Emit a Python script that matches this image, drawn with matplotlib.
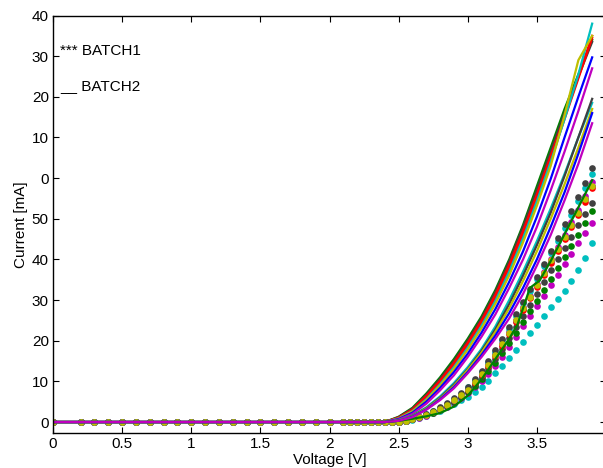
import numpy as np
import matplotlib.pyplot as plt

# ---------------------------------------------------------
# datos
# ---------------------------------------------------------
# BATCH2 (lineas): tension 2.4 .. 3.9 V cada 0.1 V
V_linea = [0.0, 2.3, 2.4, 2.5, 2.6, 2.7, 2.8, 2.9, 3.0, 3.1, 3.2, 3.3, 3.4, 3.5, 3.6, 3.7, 3.8, 3.9]

lineas = [
    ("#008000", [0, 0, 0, 1.3, 3.5, 7.0, 11.0, 15.5, 20.5, 26.0, 32.5, 40.0, 48.5, 58.0, 67.5, 77.0, 85.5, 94.0]),
    ("#404040", [0, 0, 0, 1.2, 3.3, 6.7, 10.6, 15.0, 20.0, 25.5, 32.0, 39.5, 48.0, 57.0, 66.5, 76.0, 85.0, 93.5]),
    ("#ff0000", [0, 0, 0, 1.1, 3.1, 6.4, 10.2, 14.6, 19.5, 25.0, 31.3, 38.7, 47.0, 56.0, 65.5, 75.0, 85.0, 95.0]),
    ("#ff0000", [0, 0, 0, 1.0, 2.9, 6.0, 9.8, 14.1, 19.0, 24.4, 30.6, 37.8, 46.0, 55.0, 64.5, 74.5, 84.5, 94.5]),
    ("#00bfbf", [0, 0, 0, 0.9, 2.7, 5.6, 9.3, 13.5, 18.3, 23.7, 29.8, 37.0, 45.2, 54.3, 64.0, 74.5, 85.5, 98.0]),
    ("#bfbf00", [0, 0, 0, 0.85, 2.6, 5.4, 9.0, 13.1, 17.8, 23.1, 29.1, 36.1, 44.2, 53.2, 63.0, 75.5, 89.0, 95.0]),
    ("#0000ff", [0, 0, 0, 0.75, 2.3, 5.0, 8.4, 12.3, 16.8, 22.0, 27.8, 34.5, 42.0, 50.5, 59.8, 70.0, 80.0, 89.7]),
    ("#bf00bf", [0, 0, 0, 0.6, 2.0, 4.5, 7.8, 11.5, 16.0, 21.0, 26.5, 33.0, 40.0, 48.0, 57.0, 66.5, 76.5, 87.0]),
    ("#00bfbf", [0, 0, 0, 0.4, 1.6, 3.6, 6.3, 9.6, 13.5, 18.0, 23.5, 30.0, 37.0, 44.5, 52.5, 61.0, 70.0, 78.5]),
    ("#404040", [0, 0, 0, 0.35, 1.5, 3.4, 6.0, 9.2, 13.0, 17.5, 22.8, 29.0, 36.0, 43.5, 51.5, 60.5, 70.0, 79.5]),
    ("#bfbf00", [0, 0, 0, 0.35, 1.4, 3.3, 5.8, 8.9, 12.8, 17.1, 22.2, 28.0, 34.7, 42.0, 50.0, 58.5, 67.5, 77.0]),
    ("#0000ff", [0, 0, 0, 0.3, 1.3, 3.1, 5.6, 8.6, 12.3, 16.5, 21.3, 26.8, 33.0, 40.0, 48.0, 56.5, 66.0, 76.0]),
]

# linea verde baja (con salto cerca de 3.4 V)
V_verde = [0.0, 2.4, 2.5, 2.6, 2.7, 2.8, 2.9, 3.0, 3.1, 3.2, 3.3, 3.36, 3.45, 3.52, 3.6, 3.7, 3.8, 3.9]
I_verde = [0, 0, 0.3, 0.8, 1.4, 2.2, 3.8, 6.5, 10.5, 15.5, 20.5, 24.0, 33.0, 34.8, 39.6, 46.2, 52.8, 59.5]

# ultima linea (magenta, encima de todo en la zona plana)
I_magenta2 = [0, 0, 0, 0.3, 1.2, 3.0, 5.4, 8.3, 12.0, 16.0, 20.5, 25.5, 31.5, 38.5, 46.0, 54.5, 63.5, 73.5]

# BATCH1 (puntos)
V_plano = [0.0, 0.2, 0.3, 0.4, 0.5, 0.6, 0.7, 0.8, 0.9, 1.0, 1.1, 1.2, 1.3, 1.4, 1.5, 1.6,
           1.7, 1.8, 1.9, 2.0, 2.1, 2.15, 2.2, 2.25, 2.3, 2.35, 2.4, 2.45]
V_subida = [2.5, 2.55, 2.6, 2.65, 2.7, 2.75, 2.8, 2.85, 2.9, 2.95, 3.0, 3.05, 3.1, 3.15, 3.2,
            3.25, 3.3, 3.35, 3.4, 3.45, 3.5, 3.55, 3.6, 3.65, 3.7, 3.75, 3.8, 3.85, 3.9]

puntos = [
    ("#00bfbf", [0.0, 0.25, 0.6, 1.0, 1.5, 2.1, 2.8, 3.6, 4.5, 5.3, 6.2, 7.3, 8.6, 10.2, 12.0,
                 13.8, 15.7, 17.7, 19.8, 21.8, 23.8, 26.0, 28.2, 30.2, 32.3, 34.6, 37.5, 40.4, 44.0]),
    ("#bf00bf", [0.0, 0.3, 0.65, 1.1, 1.6, 2.2, 3.0, 3.8, 4.8, 5.9, 7.1, 8.5, 10.1, 11.9, 13.9,
                 16.1, 18.5, 21.0, 23.5, 26.0, 28.5, 31.0, 33.6, 36.2, 38.8, 41.4, 44.0, 46.5, 49.0]),
    ("#008000", [0.0, 0.3, 0.7, 1.15, 1.7, 2.3, 3.1, 4.0, 5.0, 6.1, 7.4, 8.9, 10.6, 12.5, 14.6,
                 16.9, 19.4, 22.0, 24.6, 27.2, 29.8, 32.5, 35.2, 37.9, 40.6, 43.3, 46.0, 49.0, 52.0]),
    ("#404040", [0.0, 0.3, 0.7, 1.2, 1.75, 2.4, 3.2, 4.1, 5.2, 6.4, 7.7, 9.3, 11.1, 13.2, 15.5,
                 18.0, 20.6, 23.4, 26.2, 28.9, 31.6, 34.4, 37.3, 40.0, 42.8, 45.6, 48.4, 51.2, 54.0]),
    ("#0000ff", [0.0, 0.3, 0.7, 1.2, 1.8, 2.5, 3.3, 4.3, 5.4, 6.7, 8.1, 9.8, 11.8, 14.0, 16.4,
                 19.0, 21.8, 24.8, 27.8, 30.7, 33.6, 36.6, 39.6, 42.5, 45.5, 48.5, 51.6, 54.8, 58.0]),
    ("#ff0000", [0.0, 0.3, 0.7, 1.2, 1.8, 2.5, 3.3, 4.3, 5.4, 6.6, 8.0, 9.7, 11.6, 13.8, 16.2,
                 18.8, 21.6, 24.6, 27.6, 30.4, 33.2, 36.2, 39.2, 42.0, 45.0, 48.0, 51.0, 54.2, 57.5]),
    ("#bf00bf", [0.0, 0.3, 0.75, 1.25, 1.85, 2.55, 3.4, 4.4, 5.5, 6.8, 8.2, 10.0, 12.0, 14.2, 16.7,
                 19.4, 22.2, 25.2, 28.2, 31.0, 33.9, 37.0, 40.1, 43.0, 46.0, 49.1, 52.2, 55.5, 59.0]),
    ("#00bfbf", [0.0, 0.35, 0.8, 1.3, 1.9, 2.6, 3.5, 4.5, 5.7, 7.0, 8.5, 10.3, 12.4, 14.7, 17.3,
                 20.1, 23.0, 26.1, 29.2, 32.2, 35.2, 38.3, 41.5, 44.6, 47.8, 51.0, 54.3, 57.6, 61.0]),
    ("#404040", [0.0, 0.35, 0.8, 1.3, 2.0, 2.7, 3.6, 4.6, 5.8, 7.1, 8.6, 10.5, 12.6, 15.0, 17.6,
                 20.4, 23.4, 26.5, 29.6, 32.6, 35.6, 38.8, 42.0, 45.2, 48.6, 51.9, 55.3, 58.9, 62.5]),
    ("#bfbf00", [0.0, 0.3, 0.7, 1.2, 1.8, 2.5, 3.3, 4.3, 5.4, 6.6, 8.0, 9.8, 11.8, 14.0, 16.5,
                 19.2, 22.0, 25.0, 28.0, 30.8, 33.6, 36.6, 39.8, 42.6, 45.5, 48.5, 51.5, 54.8, 58.0]),
]

etiquetas_y = ["0", "10", "20", "30", "40", "50", "0", "10", "20", "30", "40"]

# ---------------------------------------------------------
# grafica
# ---------------------------------------------------------
plt.rcParams['font.family'] = ['Liberation Sans', 'DejaVu Sans']

fig = plt.figure(figsize=(6.03, 4.68), dpi=100)
ax = fig.add_axes([53 / 603, 35 / 468, 553 / 603, 417.5 / 468])

V_puntos = V_plano + V_subida
for color, I in puntos:
    ax.plot(V_puntos, [0.0] * len(V_plano) + I, 'o', color=color,
            markersize=4.8, markeredgewidth=0)

for color, I in lineas:
    ax.plot(V_linea, I, '-', color=color, linewidth=1.6)

ax.plot(V_verde, I_verde, '-', color="#008000", linewidth=1.6)
ax.plot(V_linea, I_magenta2, '-', color="#bf00bf", linewidth=1.6)

ax.set_xlim(0, 4)
ax.set_ylim(-2.7, 100)
ax.set_xticks([0, 0.5, 1, 1.5, 2, 2.5, 3, 3.5])
ax.set_xticklabels(["0", "0.5", "1", "1.5", "2", "2.5", "3", "3.5"])
ax.set_yticks(np.arange(0, 101, 10))
ax.set_yticklabels(etiquetas_y)

ax.tick_params(direction='in', top=True, right=True, length=4, width=0.8,
               labelsize=11, pad=3)
for s in ax.spines.values():
    s.set_linewidth(1.0)

ax.set_xlabel("Voltage [V]", fontsize=11, labelpad=1)
ax.set_ylabel("Current [mA]", fontsize=11, labelpad=3)

ax.text(0.013, 0.915, "*** BATCH1", transform=ax.transAxes, fontsize=11, va='center')
ax.text(0.013, 0.83, "__ BATCH2", transform=ax.transAxes, fontsize=11, va='center')

fig.savefig("out.png", dpi=100)
